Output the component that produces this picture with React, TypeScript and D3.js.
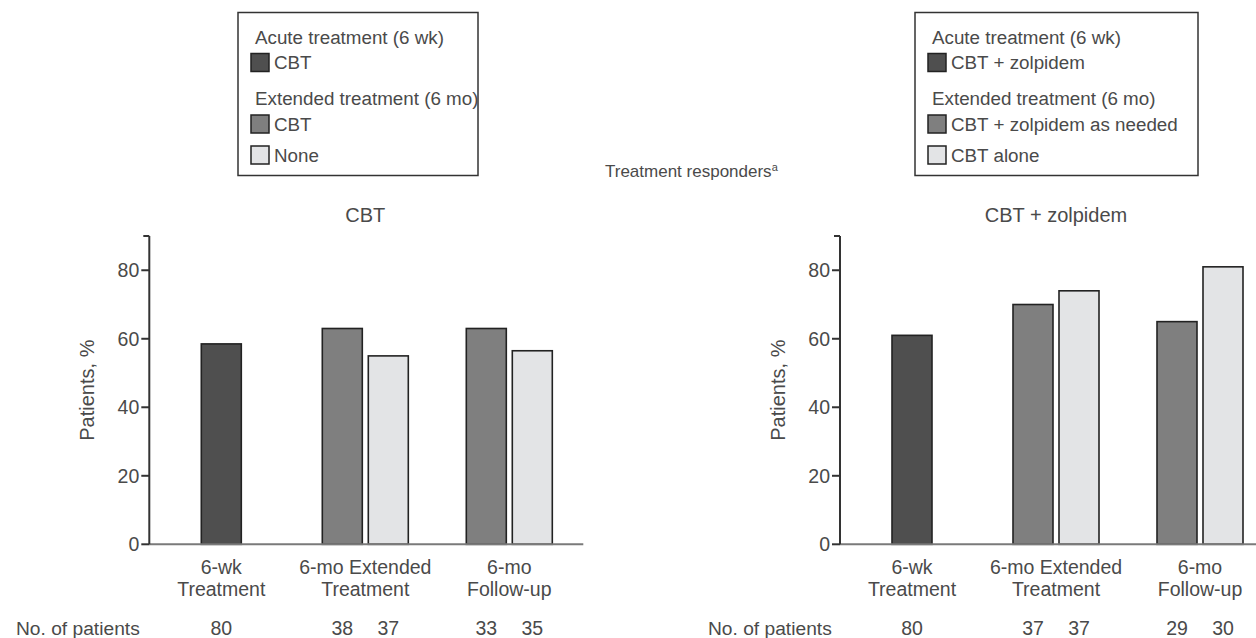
import React from "react";
import * as d3 from "d3";

// categories along the x axis
const groups = ["acute", "extended", "followup"];
const groupLabels = [
  ["6-wk", "Treatment"],
  ["6-mo Extended", "Treatment"],
  ["6-mo", "Follow-up"],
];
const yTicks = [0, 20, 40, 60, 80];

// CBT panel
const cbtAcute = [58.5, null, null];
const cbtExtended = [null, 63, 63];
const cbtNone = [null, 55, 56.5];
const cbtPatients = [[80], [38, 37], [33, 35]];
const cbtLegend = ["CBT", "CBT", "None"];

// CBT + zolpidem panel
const zolAcute = [61, null, null];
const zolExtended = [null, 70, 65];
const zolAlone = [null, 74, 81];
const zolPatients = [[80], [37, 37], [29, 30]];
const zolLegend = ["CBT + zolpidem", "CBT + zolpidem as needed", "CBT alone"];

const FONT = "'Liberation Sans', Arial, Helvetica, sans-serif";
const TEXT = "#4a4a4a";
const COLORS = { acute: "#4f4f4f", extended: "#7f7f7f", alt: "#e3e4e6" };

const W = 1256;
const H = 638;
const y = d3.scaleLinear().domain([0, 90]).range([544.3, 236]);
const sub = d3.scaleBand().domain(["a", "b"]).range([-43, 43]).paddingInner(6 / 46);

type Series = (number | null)[];

const Legend = ({ x, w, labels }: { x: number; w: number; labels: string[] }) => {
  const top = 12.5;
  const sw = x + 13;
  const rows = [
    { yy: 62.5, fill: COLORS.acute, label: labels[0] },
    { yy: 124, fill: COLORS.extended, label: labels[1] },
    { yy: 155, fill: COLORS.alt, label: labels[2] },
  ];
  return (
    <g>
      <rect x={x} y={top} width={w} height={163} fill="#fff" stroke="#333" strokeWidth={1.5} />
      <text x={x + 17} y={37} dy="0.35em" fontSize={18.8}>Acute treatment (6 wk)</text>
      <text x={x + 17} y={98} dy="0.35em" fontSize={18.8}>Extended treatment (6 mo)</text>
      {rows.map((r, i) => (
        <g key={i}>
          <rect x={sw} y={r.yy - 9} width={18} height={18} fill={r.fill} stroke="#222" strokeWidth={1.5} />
          <text x={sw + 23} y={r.yy} dy="0.35em" fontSize={18.8}>{r.label}</text>
        </g>
      ))}
    </g>
  );
};

const Panel = ({
  axisX, title, acute, extended, alt, patients, labelX,
}: {
  axisX: number; title: string; acute: Series; extended: Series; alt: Series;
  patients: number[][]; labelX: number;
}) => {
  const x = d3.scaleBand().domain(groups).range([axisX, axisX + 432]);
  const bars: { x0: number; v: number; fill: string }[] = [];
  groups.forEach((g, i) => {
    const c = (x(g) as number) + x.bandwidth() / 2;
    if (acute[i] != null) bars.push({ x0: c - 20, v: acute[i] as number, fill: COLORS.acute });
    if (extended[i] != null) bars.push({ x0: c + (sub("a") as number), v: extended[i] as number, fill: COLORS.extended });
    if (alt[i] != null) bars.push({ x0: c + (sub("b") as number), v: alt[i] as number, fill: COLORS.alt });
  });
  return (
    <g>
      <text x={axisX + 216} y={215} dy="0.35em" textAnchor="middle" fontSize={20}>{title}</text>
      {bars.map((b, i) => (
        <rect key={i} x={b.x0} y={y(b.v)} width={40} height={y(0) - y(b.v)}
          fill={b.fill} stroke="#222" strokeWidth={1.6} />
      ))}
      <line x1={axisX} x2={axisX + 434} y1={y(0)} y2={y(0)} stroke="#7a7a7a" strokeWidth={2} />
      <line x1={axisX} x2={axisX} y1={y(90)} y2={y(0)} stroke="#333" strokeWidth={2} />
      <line x1={axisX - 6} x2={axisX} y1={y(90)} y2={y(90)} stroke="#333" strokeWidth={2} />
      {yTicks.map((t) => (
        <g key={t}>
          <line x1={axisX - 8} x2={axisX} y1={y(t)} y2={y(t)} stroke="#333" strokeWidth={2} />
          <text x={axisX - 10} y={y(t)} dy="0.35em" textAnchor="end" fontSize={19.5}>{t}</text>
        </g>
      ))}
      <text transform={`translate(${axisX - 62},${(y(0) + y(90)) / 2}) rotate(-90)`}
        textAnchor="middle" dy="0.35em" fontSize={20}>Patients, %</text>
      {groups.map((g, i) => {
        const c = (x(g) as number) + x.bandwidth() / 2;
        return (
          <g key={g}>
            {groupLabels[i].map((l, j) => (
              <text key={j} x={c} y={567 + j * 22} dy="0.35em" textAnchor="middle" fontSize={19.5}>{l}</text>
            ))}
            {patients[i].map((n, j) => {
              const cx = patients[i].length === 1 ? c : c + (sub(j === 0 ? "a" : "b") as number) + 20;
              return (
                <text key={j} x={cx} y={628} dy="0.35em" textAnchor="middle" fontSize={19.5}>{n}</text>
              );
            })}
          </g>
        );
      })}
      <text x={labelX} y={628} dy="0.35em" fontSize={19.2}>No. of patients</text>
    </g>
  );
};

export default function App() {
  return (
    <svg width={W} height={H} style={{ position: "absolute", left: 0, top: 0, background: "#fff" }}
      fontFamily={FONT} fill={TEXT}>
      <Legend x={238} w={240} labels={cbtLegend} />
      <Legend x={915} w={283} labels={zolLegend} />
      <text x={605} y={171} dy="0.35em" fontSize={17}>
        Treatment responders<tspan fontSize={11} dy="-6">a</tspan>
      </text>
      <Panel axisX={149.3} title="CBT" acute={cbtAcute} extended={cbtExtended} alt={cbtNone}
        patients={cbtPatients} labelX={16} />
      <Panel axisX={840} title="CBT + zolpidem" acute={zolAcute} extended={zolExtended} alt={zolAlone}
        patients={zolPatients} labelX={708} />
    </svg>
  );
}
